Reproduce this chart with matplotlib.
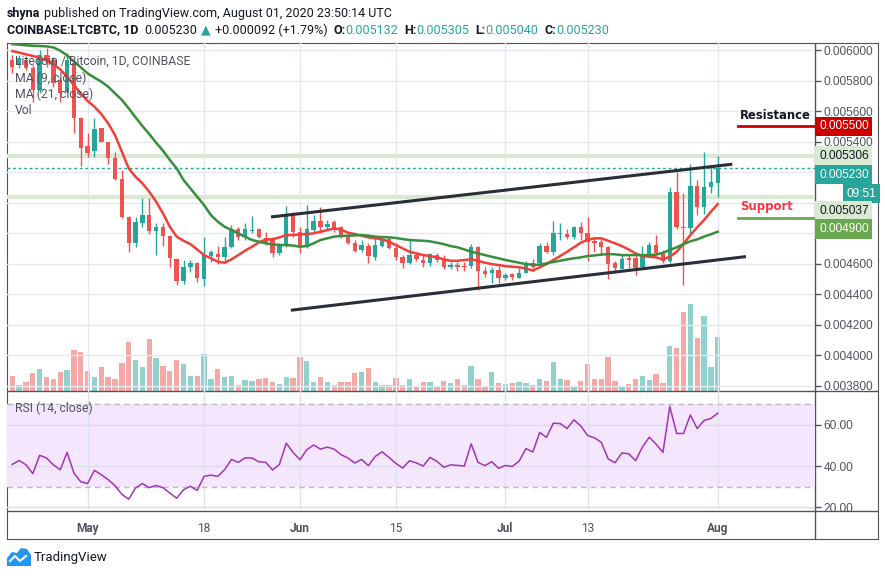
import numpy as np
import matplotlib
matplotlib.use('Agg')
import matplotlib.pyplot as plt
from matplotlib.patches import Polygon

W, H = 885, 576

# one daily candle per index, index 0 = 2020-04-20, last = 2020-08-01 (prices in mBTC)
opens_m = [5.934, 5.902, 5.934, 5.880, 5.738, 5.967, 5.934, 5.804, 5.727, 5.913,
           5.552, 5.371, 5.341, 5.487, 5.395, 5.291, 5.153, 4.909, 4.738, 4.869,
           4.919, 4.817, 4.843, 4.784, 4.631, 4.489, 4.581, 4.607, 4.500, 4.651,
           4.662, 4.646, 4.712, 4.828, 4.782, 4.817, 4.825, 4.767, 4.767, 4.668,
           4.723, 4.919, 4.810, 4.712, 4.821, 4.882, 4.839, 4.876, 4.839, 4.782,
           4.738, 4.690, 4.716, 4.642, 4.716, 4.760, 4.701, 4.642, 4.607, 4.657,
           4.625, 4.603, 4.657, 4.629, 4.577, 4.592, 4.585, 4.585, 4.712, 4.555,
           4.537, 4.559, 4.505, 4.531, 4.509, 4.542, 4.607, 4.603, 4.716, 4.679,
           4.797, 4.795, 4.773, 4.839, 4.804, 4.751, 4.745, 4.712, 4.603, 4.568,
           4.636, 4.636, 4.577, 4.651, 4.723, 4.679, 4.620, 5.072, 4.839, 4.832,
           5.109, 4.970, 5.105, 5.132]
highs_m = [5.967, 5.967, 5.956, 5.902, 6.000, 6.010, 5.956, 5.825, 5.978, 5.934,
           5.560, 5.454, 5.552, 5.490, 5.400, 5.334, 5.214, 4.915, 4.909, 5.029,
           5.029, 4.869, 4.865, 4.790, 4.640, 4.625, 4.625, 4.610, 4.777, 4.690,
           4.718, 4.777, 4.854, 4.843, 4.869, 4.913, 4.832, 4.810, 4.777, 4.734,
           4.981, 4.941, 4.843, 4.985, 4.919, 4.974, 4.887, 4.887, 4.848, 4.799,
           4.756, 4.756, 4.734, 4.777, 4.777, 4.777, 4.734, 4.657, 4.756, 4.673,
           4.664, 4.673, 4.673, 4.657, 4.614, 4.614, 4.614, 4.729, 4.716, 4.577,
           4.581, 4.585, 4.542, 4.542, 4.570, 4.620, 4.629, 4.734, 4.745, 4.882,
           4.865, 4.825, 4.847, 4.876, 4.904, 4.767, 4.760, 4.716, 4.620, 4.664,
           4.657, 4.664, 4.716, 4.745, 4.788, 4.690, 5.105, 5.203, 5.061, 5.253,
           5.149, 5.334, 5.247, 5.305]
lows_m = [5.847, 5.880, 5.869, 5.662, 5.716, 5.890, 5.760, 5.662, 5.716, 5.454,
          5.240, 5.301, 5.297, 5.395, 5.253, 5.149, 4.898, 4.679, 4.708, 4.843,
          4.795, 4.657, 4.716, 4.581, 4.461, 4.468, 4.548, 4.483, 4.454, 4.614,
          4.598, 4.614, 4.701, 4.756, 4.756, 4.799, 4.767, 4.723, 4.647, 4.657,
          4.712, 4.777, 4.668, 4.701, 4.799, 4.799, 4.825, 4.810, 4.767, 4.729,
          4.679, 4.679, 4.607, 4.625, 4.708, 4.694, 4.625, 4.570, 4.598, 4.620,
          4.577, 4.585, 4.614, 4.564, 4.564, 4.555, 4.555, 4.570, 4.428, 4.516,
          4.476, 4.476, 4.494, 4.494, 4.505, 4.537, 4.555, 4.585, 4.668, 4.657,
          4.756, 4.760, 4.760, 4.756, 4.620, 4.679, 4.657, 4.498, 4.555, 4.564,
          4.570, 4.526, 4.570, 4.642, 4.657, 4.607, 4.607, 4.825, 4.461, 4.788,
          4.919, 4.926, 5.066, 5.040]
closes_m = [5.891, 5.945, 5.880, 5.738, 5.967, 5.930, 5.782, 5.716, 5.934, 5.552,
            5.356, 5.328, 5.480, 5.400, 5.291, 5.153, 4.909, 4.738, 4.871, 4.919,
            4.817, 4.843, 4.784, 4.636, 4.489, 4.581, 4.607, 4.505, 4.657, 4.677,
            4.642, 4.712, 4.828, 4.778, 4.825, 4.821, 4.778, 4.745, 4.668, 4.723,
            4.915, 4.810, 4.716, 4.825, 4.882, 4.839, 4.860, 4.825, 4.778, 4.738,
            4.683, 4.723, 4.651, 4.723, 4.760, 4.701, 4.642, 4.603, 4.657, 4.629,
            4.603, 4.664, 4.625, 4.577, 4.592, 4.581, 4.577, 4.708, 4.555, 4.533,
            4.559, 4.505, 4.526, 4.511, 4.542, 4.607, 4.581, 4.716, 4.679, 4.799,
            4.799, 4.773, 4.839, 4.804, 4.745, 4.738, 4.712, 4.598, 4.570, 4.629,
            4.625, 4.570, 4.657, 4.723, 4.673, 4.620, 5.072, 4.839, 4.837, 5.109,
            4.970, 5.101, 5.135, 5.230]
ma9_m = [5.993, 5.983, 5.972, 5.961, 5.950, 5.930, 5.908, 5.873, 5.825, 5.771,
         5.716, 5.666, 5.629, 5.581, 5.520, 5.443, 5.334, 5.225, 5.170, 5.127,
         5.072, 5.007, 4.930, 4.843, 4.778, 4.751, 4.729, 4.694, 4.657, 4.636,
         4.614, 4.607, 4.629, 4.657, 4.686, 4.712, 4.740, 4.760, 4.760, 4.773,
         4.788, 4.788, 4.793, 4.795, 4.799, 4.810, 4.821, 4.832, 4.825, 4.804,
         4.795, 4.784, 4.773, 4.767, 4.760, 4.745, 4.723, 4.701, 4.679, 4.668,
         4.657, 4.651, 4.642, 4.629, 4.620, 4.620, 4.625, 4.629, 4.620, 4.607,
         4.598, 4.592, 4.585, 4.581, 4.577, 4.570, 4.555, 4.577, 4.598, 4.625,
         4.651, 4.679, 4.708, 4.738, 4.756, 4.767, 4.767, 4.751, 4.734, 4.716,
         4.694, 4.668, 4.651, 4.646, 4.642, 4.629, 4.646, 4.679, 4.730, 4.788,
         4.839, 4.887, 4.941, 4.991]
ma21_m = [6.039, 6.035, 6.031, 6.028, 6.026, 6.024, 6.017, 5.996, 5.965, 5.924,
          5.887, 5.847, 5.819, 5.793, 5.760, 5.716, 5.673, 5.618, 5.559, 5.502,
          5.450, 5.393, 5.341, 5.280, 5.225, 5.149, 5.094, 5.039, 4.985, 4.919,
          4.876, 4.843, 4.821, 4.799, 4.777, 4.756, 4.745, 4.734, 4.727, 4.723,
          4.723, 4.719, 4.712, 4.716, 4.734, 4.756, 4.767, 4.778, 4.782, 4.784,
          4.786, 4.788, 4.784, 4.778, 4.775, 4.773, 4.769, 4.762, 4.756, 4.753,
          4.751, 4.747, 4.738, 4.729, 4.716, 4.708, 4.694, 4.679, 4.668, 4.657,
          4.646, 4.636, 4.625, 4.616, 4.607, 4.598, 4.594, 4.594, 4.603, 4.612,
          4.620, 4.629, 4.636, 4.642, 4.651, 4.655, 4.660, 4.664, 4.662, 4.657,
          4.657, 4.657, 4.657, 4.657, 4.660, 4.673, 4.690, 4.708, 4.729, 4.747,
          4.760, 4.778, 4.793, 4.810]
# volume in thousand LTC
volume = [15, 6, 9, 18, 22, 14, 12, 19, 21, 41,
          39, 20, 14, 24, 14, 12, 28, 49, 31, 24,
          52, 33, 25, 20, 31, 27, 15, 15, 37, 12,
          22, 14, 15, 6, 11, 10, 12, 13, 9, 7,
          14, 13, 34, 30, 9, 14, 9, 6, 9, 9,
          18, 19, 23, 9, 6, 6, 13, 6, 12, 4,
          9, 9, 4, 10, 8, 12, 6, 25, 12, 5,
          19, 8, 7, 8, 9, 8, 6, 12, 10, 29,
          12, 11, 5, 10, 27, 12, 12, 34, 10, 4,
          7, 12, 15, 11, 17, 8, 45, 43, 79, 87,
          53, 75, 24, 54]
rsi = [40.8, 42.7, 40.6, 36.3, 45.2, 43.9, 40.6, 38.2, 46.6, 36.6,
       32.4, 31.5, 37.9, 35.8, 33.4, 30.5, 26.3, 23.9, 29.4, 31.5,
       29.5, 30.6, 29.5, 26.9, 24.4, 28.5, 30.2, 28.2, 35.0, 35.6,
       35.0, 38.2, 43.2, 41.8, 44.0, 43.9, 42.1, 41.8, 38.1, 40.8,
       51.1, 46.6, 43.1, 47.9, 50.2, 48.2, 49.2, 48.2, 45.5, 43.9,
       41.5, 43.2, 40.2, 44.7, 46.9, 44.2, 41.3, 39.0, 42.6, 41.5,
       40.0, 44.2, 42.3, 39.4, 40.6, 40.3, 40.0, 50.8, 41.8, 40.2,
       42.1, 38.9, 40.3, 39.8, 42.4, 48.5, 46.8, 56.3, 53.9, 60.8,
       60.6, 58.2, 62.4, 59.5, 54.8, 53.7, 51.5, 43.5, 41.6, 46.3,
       46.0, 42.6, 49.2, 54.0, 50.6, 46.6, 68.9, 55.8, 55.8, 64.8,
       58.2, 62.1, 63.1, 65.6]

date_ticks = [11, 28, 42, 56, 72, 84, 103]
date_labels = ['May', '18', 'Jun', '15', 'Jul', '13', 'Aug']
date_bold = [True, False, True, False, True, False, True]
price_ticks = [0.0038, 0.0040, 0.0042, 0.0044, 0.0046, 0.0048, 0.0050,
               0.0052, 0.0054, 0.0056, 0.0058, 0.0060]
hidden_ticks = [0.0048, 0.0050, 0.0052]   # covered by the price tags
rsi_ticks = [20, 40, 60]

resistance = 0.0055
support = 0.0049
last_close = 0.005230
last_high = 0.005306
last_low = 0.005037
# channel lines (candle index, price)
upper_x, upper_y = [38.0, 104.9], [0.004908, 0.005251]
lower_x, lower_y = [40.9, 106.9], [0.004297, 0.004646]

plt.rcParams['font.family'] = ['Roboto', 'DejaVu Sans']
TEAL, RED = '#26a69a', '#ef5350'
TXT, GREY, FRAME, GRID = '#131722', '#50535e', '#50535e', '#e4e9f0'
XMIN, XMAX = -0.77, 117.2

fig = plt.figure(figsize=(W / 100, H / 100), dpi=100)


def px_axes(l, t, r, b, **kw):
    return fig.add_axes([l / W, 1 - b / H, (r - l) / W, (b - t) / H], **kw)


def ftext(x, y, s, **kw):
    return fig.text(x / W, 1 - y / H, s, va='center', **kw)


# outer frame
frame = px_axes(7, 43, 878, 539, zorder=0)
frame.set_xticks([])
frame.set_yticks([])
for sp in frame.spines.values():
    sp.set_color(FRAME)
frame.axvline((815 - 7) / 871, color=FRAME, lw=1)
frame.axhline(1 - (391 - 43) / 496, color=FRAME, lw=1)
frame.axhline(1 - (511 - 43) / 496, color=FRAME, lw=1)

# volume (overlay in the price pane)
idx = np.arange(len(opens_m))
o = np.array(opens_m) * 1e-3
h = np.array(highs_m) * 1e-3
l = np.array(lows_m) * 1e-3
c = np.array(closes_m) * 1e-3
colors = np.where(c >= o, TEAL, RED)

axv = px_axes(7, 43, 815, 391, zorder=1)
axv.set_facecolor('none')
axv.bar(idx, volume, width=0.78, color=colors, alpha=0.5, linewidth=0)
axv.set_xlim(XMIN, XMAX)
axv.set_ylim(0, 348)
axv.axis('off')

# price pane
ax = px_axes(7, 43, 815, 391, zorder=2)
ax.set_facecolor('none')
ax.set_xlim(XMIN, XMAX)
ax.set_ylim(0.003767, 0.006046)
for p in price_ticks:
    ax.axhline(p, color=GRID, lw=1, zorder=0.5)
for d in date_ticks:
    ax.axvline(d, color=GRID, lw=1, zorder=0.5)
ax.axhline(last_high, color='#d9ead3', lw=3, zorder=1)
ax.axhline(last_low, color='#d9ead3', lw=3, zorder=1)
ax.axhline(last_close, color=TEAL, lw=1, ls=(0, (2, 2)), zorder=1.5)

ax.vlines(idx, l, h, colors=colors, lw=1, zorder=3)
ax.bar(idx, np.maximum(np.abs(c - o), 0.000004), bottom=np.minimum(o, c),
       width=0.64, color=colors, linewidth=0, zorder=4)
ax.plot(idx, np.array(ma9_m) * 1e-3, color='#f23f3a', lw=1.8, zorder=5)
ax.plot(idx, np.array(ma21_m) * 1e-3, color='#388e3c', lw=1.8, zorder=5)
ax.plot(upper_x, upper_y, color='#2a2e39', lw=2.2, zorder=6)
ax.plot(lower_x, lower_y, color='#2a2e39', lw=2.2, zorder=6)

ax.plot([105.9, XMAX], [resistance] * 2, color='#cc0000', lw=2, zorder=6)
ax.plot([105.9, XMAX], [support] * 2, color='#6aa84f', lw=2, zorder=6)
ax.annotate('Resistance', xy=(106.2, resistance), xytext=(0, 4), textcoords='offset pixels',
            ha='left', va='bottom', fontsize=8.4, fontweight='bold', color=TXT,
            family=['DejaVu Sans'])
ax.annotate('Support', xy=(106.2, support), xytext=(0, 5), textcoords='offset pixels',
            ha='left', va='bottom', fontsize=8.4, fontweight='bold', color='#f23645',
            family=['DejaVu Sans'])

for sp in ax.spines.values():
    sp.set_visible(False)
ax.set_xticks([])
ax.yaxis.tick_right()
ax.set_yticks(price_ticks)
ax.set_yticklabels(['' if p in hidden_ticks else f'{p:.6f}' for p in price_ticks])
ax.tick_params(axis='y', length=4, width=1, color=FRAME, labelcolor=GREY,
               labelsize=8.6, pad=2)
for t in ax.get_yticklabels():
    t.set_family(['Liberation Sans'])


def price_tag(y, s, bg, fg, dx=4, dy=0, ha='left'):
    ax.annotate(s, xy=(1.0, y), xycoords=('axes fraction', 'data'),
                xytext=(dx, -dy), textcoords='offset pixels', ha=ha, va='center',
                fontsize=8.6, color=fg, family=['Liberation Sans'], zorder=10,
                annotation_clip=False,
                bbox=dict(boxstyle='square,pad=0.3', fc=bg, ec='none'))


price_tag(resistance, '0.005500', '#cc0000', 'white')
price_tag(last_high, '0.005306', '#d9ead3', TXT)
price_tag(last_close, '0.005230', TEAL, 'white', dy=7)
price_tag(last_close, '09:51', TEAL, 'white', dx=61, dy=26, ha='right')
price_tag(last_low, '0.005037', '#d9ead3', TXT, dy=14)
price_tag(support, '0.004900', '#6aa84f', 'white', dy=11)

# RSI pane
rax = px_axes(7, 391, 815, 511, zorder=2)
rax.set_facecolor('none')
rax.set_xlim(XMIN, XMAX)
rax.set_ylim(18.2, 76.4)
rax.axhspan(30, 70, color='#f3e6fd', lw=0, zorder=0.3)
for v in rsi_ticks:
    rax.axhline(v, color='#dcdcec', lw=1, zorder=0.5)
for d in date_ticks:
    rax.axvline(d, color='#dfe3ec', lw=1, zorder=0.5)
rax.axhline(70, color='#b8b8c0', lw=1, ls=(0, (4, 3)), zorder=0.8)
rax.axhline(30, color='#b8b8c0', lw=1, ls=(0, (4, 3)), zorder=0.8)
rax.plot(idx, rsi, color='#a235b5', lw=1.1, zorder=3)
for sp in rax.spines.values():
    sp.set_visible(False)
rax.yaxis.tick_right()
rax.set_yticks(rsi_ticks)
rax.set_yticklabels([f'{v:.2f}' for v in rsi_ticks])
rax.tick_params(axis='y', length=4, width=1, color=FRAME, labelcolor=GREY,
                labelsize=8.6, pad=2)
rax.set_xticks(date_ticks)
rax.set_xticklabels(date_labels)
rax.tick_params(axis='x', length=0, labelsize=8.6, labelcolor=GREY, pad=8)
for t, b in zip(rax.get_xticklabels(), date_bold):
    t.set_fontweight('bold' if b else 'normal')
for t in rax.get_yticklabels():
    t.set_family(['Liberation Sans'])
rax.text(8 / 808, 1 - 17 / 120, 'RSI (14, close)', transform=rax.transAxes,
         va='center', ha='left', fontsize=8.8, color=GREY)

# pane legend
for y, s in [(61, 'Litecoin / Bitcoin, 1D, COINBASE'), (78, 'MA (9, close)'),
             (94, 'MA (21, close)'), (111, 'Vol')]:
    ftext(15, y, s, fontsize=8.8, color=GREY, zorder=20)

# header lines
renderer = fig.canvas.get_renderer()


def runs(x, y, parts):
    for s, col, wt, gap in parts:
        t = ftext(x, y, s, fontsize=9, color=col, fontweight=wt)
        x += t.get_window_extent(renderer).width + gap


runs(7, 13, [('shyna', TXT, 'bold', 4),
             ('published on TradingView.com, August 01, 2020 23:50:14 UTC', TXT, 'normal', 0)])
runs(7, 30, [('COINBASE:LTCBTC, 1D', TXT, 'bold', 6), ('0.005230', TXT, 'normal', 4),
             ('\u25b2', TEAL, 'normal', 4), ('+0.000092 (+1.79%)', TXT, 'normal', 6),
             ('O:', TXT, 'bold', 0), ('0.005132', TEAL, 'normal', 6),
             ('H:', TXT, 'bold', 0), ('0.005305', TEAL, 'normal', 6),
             ('L:', TXT, 'bold', 0), ('0.005040', TEAL, 'normal', 6),
             ('C:', TXT, 'bold', 0), ('0.005230', TEAL, 'normal', 0)])

# footer logo
cloud = [(7, 566), (7, 558), (12, 552), (17, 553), (21, 548), (27, 549), (31, 555), (31, 566)]
fig.add_artist(Polygon([(x / W, 1 - y / H) for x, y in cloud], closed=True,
                       transform=fig.transFigure, fc='#2196f3', ec='none'))
fig.add_artist(plt.Line2D([10 / W, 15 / W, 20 / W, 26 / W], [1 - 561 / H, 1 - 556 / H, 1 - 561 / H, 1 - 556 / H],
                          transform=fig.transFigure, color='white', lw=1.5))
ftext(34, 557, 'TradingView', fontsize=9.5, color=TXT)

fig.savefig('out.png', dpi=100)
